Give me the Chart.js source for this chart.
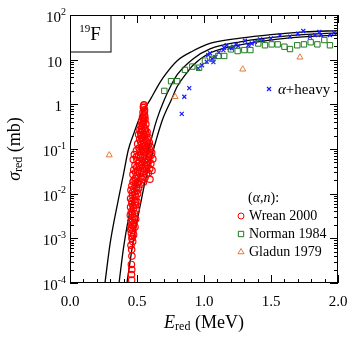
<!DOCTYPE html>
<html>
<head>
<meta charset="utf-8">
<script src="https://cdn.jsdelivr.net/npm/chart.js@4/dist/chart.umd.min.js"></script>
<style>
  html, body { margin: 0; padding: 0; background: #fff; }
  canvas { display: block; }
</style>
</head>
<body>
<canvas id="sigmaChart" width="353" height="338"></canvas>
<script>
// theory curves (E_red, sigma_red)
const curve1 = [[0.261,1e-4],[0.30,7.9e-4],[0.36,7.2e-3],[0.40,0.028],[0.435,0.095],[0.48,0.24],[0.522,0.52],
  [0.572,0.95],[0.602,1.32],[0.65,2.4],[0.696,4.0],[0.80,9.5],[0.92,15.8],[1.05,23.4],[1.27,30.2],[1.5,36.3],[1.75,41.7],[2.0,44.7]];
const curve2 = [[0.366,1e-4],[0.40,6.3e-4],[0.455,5.1e-3],[0.52,0.025],[0.584,0.095],[0.647,0.45],[0.696,1.12],
  [0.75,2.5],[0.80,4.6],[0.92,10.5],[1.045,17.4],[1.27,25.1],[1.64,34.4],[2.0,39.8]];
const curve3 = [[0.425,1e-4],[0.47,7.9e-4],[0.522,5.1e-3],[0.57,0.025],[0.622,0.095],[0.69,0.45],[0.759,1.32],
  [0.80,2.5],[0.87,5.0],[0.92,7.6],[1.045,14.1],[1.27,21.4],[1.64,30.9],[2.0,35.5]];

// (a,n) data
const wrean2000 = [
  [0.552,0.98],[0.548,0.85],[0.556,0.75],[0.545,0.66],[0.553,0.58],[0.541,0.52],[0.560,0.47],[0.537,0.42],
  [0.550,0.40],[0.566,0.36],[0.531,0.33],[0.546,0.31],[0.559,0.29],[0.522,0.27],[0.540,0.25],[0.575,0.24],
  [0.512,0.21],[0.530,0.20],[0.555,0.19],[0.585,0.18],[0.520,0.165],[0.545,0.155],[0.568,0.15],[0.592,0.14],
  [0.505,0.13],[0.535,0.125],[0.560,0.118],[0.600,0.112],[0.515,0.105],[0.548,0.10],[0.580,0.098],
  [0.496,0.092],[0.530,0.088],[0.565,0.085],[0.610,0.082],[0.480,0.075],[0.512,0.072],[0.552,0.07],
  [0.590,0.066],[0.618,0.06],[0.472,0.058],[0.500,0.055],[0.540,0.052],[0.575,0.05],[0.603,0.047],
  [0.485,0.043],[0.520,0.042],[0.560,0.040],[0.595,0.036],[0.612,0.033],[0.476,0.034],[0.505,0.032],
  [0.545,0.031],[0.585,0.029],[0.470,0.027],[0.500,0.025],[0.530,0.024],[0.560,0.023],[0.597,0.021],
  [0.478,0.020],[0.515,0.019],[0.548,0.018],[0.490,0.017],[0.525,0.016],[0.462,0.015],[0.495,0.014],
  [0.512,0.013],[0.455,0.012],[0.480,0.011],[0.505,0.010],[0.468,0.0092],[0.492,0.0085],[0.452,0.0078],
  [0.478,0.0072],[0.500,0.0066],[0.462,0.006],[0.487,0.0055],[0.452,0.005],[0.475,0.0047],[0.495,0.0043],
  [0.458,0.004],[0.482,0.0036],[0.450,0.0033],[0.470,0.003],[0.490,0.0027],[0.455,0.0024],[0.478,0.0022],
  [0.462,0.002],[0.485,0.0018],[0.452,0.0016],[0.470,0.0015],[0.458,0.0013],[0.475,0.0012],[0.462,0.001],
  [0.468,0.00085],[0.455,0.0007],[0.460,0.00056],[0.462,0.0004],[0.458,0.00026],[0.461,0.0002],
  [0.459,0.000155],[0.460,0.000117],
  [0.549,0.92],[0.555,0.68],[0.547,0.48],[0.558,0.55],[0.543,0.37],[0.552,0.44],[0.535,0.29],[0.562,0.26],
  [0.527,0.23],[0.548,0.22],[0.568,0.21],[0.538,0.18],[0.578,0.165],[0.527,0.145],[0.553,0.138],[0.583,0.128],
  [0.540,0.112],[0.568,0.105],[0.592,0.10],[0.522,0.096],[0.548,0.086],[0.582,0.078],[0.605,0.072],
  [0.528,0.064],[0.565,0.061],[0.495,0.066],[0.555,0.056],[0.588,0.054],[0.512,0.048],[0.535,0.045],
  [0.580,0.043],[0.498,0.039],[0.540,0.037],[0.570,0.034],[0.490,0.030],[0.520,0.029],[0.570,0.027],
  [0.488,0.022],[0.540,0.021],[0.505,0.0175],[0.470,0.0185],[0.478,0.013],[0.500,0.0118],[0.465,0.0105],
  [0.485,0.0095],[0.462,0.0068],[0.488,0.0064],[0.470,0.0052],[0.465,0.0035],[0.480,0.0029],[0.468,0.0025],
  [0.472,0.0019],[0.460,0.0017],[0.466,0.0011]
];
const norman1984 = [
  [0.704,2.0],[0.754,3.3],[0.80,3.3],[0.858,5.9],[0.913,7.0],[0.963,6.6],[1.007,9.5],[1.062,10.4],
  [1.107,12.1],[1.151,12.1],[1.201,17],[1.251,15.6],[1.301,16.4],[1.346,16.4],[1.405,23],[1.455,21],
  [1.505,22],[1.55,22],[1.60,19.5],[1.642,17.3],[1.696,21],[1.746,22],[1.796,24.5],[1.846,22],[1.898,27.5],[1.94,21]
];
const gladun1979 = [[0.293,0.073],[0.784,1.48],[1.289,6.1],[1.716,11.3]];
const alphaHeavy = [
  [0.834,0.61],[0.853,1.48],[0.890,2.3],[0.957,6.4],[0.985,7.5],[1.020,9.0],[1.032,12.7],[1.045,13.9],
  [1.060,10.5],[1.070,8.8],[1.085,11.5],[1.110,14.5],[1.144,16.4],[1.150,18.5],[1.169,21],[1.190,18.5],
  [1.207,18],[1.219,19.5],[1.240,22],[1.256,20.2],[1.306,26.5],[1.331,21],[1.356,23],[1.380,25],
  [1.418,28.5],[1.440,27],[1.500,30],[1.567,35.6],[1.642,32.7],[1.70,38],[1.741,43.8],[1.791,32.7],
  [1.828,35.6],[1.861,42],[1.873,35.6],[1.94,35.6],[1.97,40]
];

const xTickLabels = ['0.0', '0.5', '1.0', '1.5', '2.0'];
const yDecades = [-4, -3, -2, -1, 0, 1, 2];

const RED = '#ff0000', GREEN = '#1f7a1f', ORANGE = '#e57a35', BLUE = '#1a1aff';
const SERIF = '"Liberation Serif", "DejaVu Serif", serif';

function pts(arr) { return arr.map(p => ({ x: p[0], y: p[1] })); }
function line(arr) {
  return { data: pts(arr), showLine: true, borderColor: '#000', borderWidth: 1.3, pointRadius: 0,
           cubicInterpolationMode: 'monotone', fill: false };
}

// draws text pieces left to right; each piece {t, size, italic, dy}
function rich(ctx, parts, x, y, align) {
  let w = 0;
  parts.forEach(p => { ctx.font = (p.italic ? 'italic ' : '') + p.size + 'px ' + SERIF; w += ctx.measureText(p.t).width; });
  let cx = align === 'center' ? x - w / 2 : align === 'right' ? x - w : x;
  parts.forEach(p => {
    ctx.font = (p.italic ? 'italic ' : '') + p.size + 'px ' + SERIF;
    ctx.fillText(p.t, cx, y + (p.dy || 0));
    cx += ctx.measureText(p.t).width;
  });
}

const framePlugin = {
  id: 'frame',
  afterDatasetsDraw(chart) {
    const ctx = chart.ctx, a = chart.chartArea;
    const xs = chart.scales.x, ys = chart.scales.y;
    ctx.save();
    ctx.strokeStyle = '#000';
    ctx.fillStyle = '#000';
    ctx.lineWidth = 1;
    ctx.strokeRect(a.left + 0.5, a.top + 0.5, a.right - a.left - 1, a.bottom - a.top - 1);

    // x ticks, inward, bottom and top
    ctx.beginPath();
    for (let i = 0; i <= 20; i++) {
      const px = Math.round(xs.getPixelForValue(i / 10)) + 0.5;
      const len = i % 5 === 0 ? 8 : 4;
      ctx.moveTo(px, a.bottom); ctx.lineTo(px, a.bottom - len);
      ctx.moveTo(px, a.top); ctx.lineTo(px, a.top + len);
    }
    // y ticks, inward, left and right
    yDecades.forEach(e => {
      for (let m = 1; m <= 9; m++) {
        if (e === 2 && m > 1) break;
        const py = Math.round(ys.getPixelForValue(m * Math.pow(10, e))) + 0.5;
        const len = m === 1 ? 8 : 4;
        ctx.moveTo(a.left, py); ctx.lineTo(a.left + len, py);
        ctx.moveTo(a.right, py); ctx.lineTo(a.right - len, py);
      }
    });
    ctx.stroke();

    // tick labels
    ctx.textBaseline = 'middle';
    xTickLabels.forEach(t => {
      ctx.font = '15px ' + SERIF;
      ctx.textAlign = 'center';
      ctx.fillText(t, xs.getPixelForValue(parseFloat(t)), a.bottom + 19);
    });
    ctx.textAlign = 'left';
    yDecades.forEach(e => {
      const py = ys.getPixelForValue(Math.pow(10, e)) + 3;
      if (e === 0) rich(ctx, [{ t: '1', size: 15 }], 62, py, 'right');
      else if (e === 1) rich(ctx, [{ t: '10', size: 15 }], 62, py, 'right');
      else rich(ctx, [{ t: '10', size: 15 }, { t: String(e), size: 10, dy: -6 }], 66, py, 'right');
    });

    // axis titles
    rich(ctx, [{ t: 'E', size: 18, italic: true }, { t: 'red', size: 12, dy: 4 }, { t: ' (MeV)', size: 18 }],
      (a.left + a.right) / 2, 323, 'center');
    ctx.save();
    ctx.translate(15, (a.top + a.bottom) / 2);
    ctx.rotate(-Math.PI / 2);
    rich(ctx, [{ t: 'σ', size: 18, italic: true }, { t: 'red', size: 12, dy: 4 }, { t: ' (mb)', size: 18 }], 0, 0, 'center');
    ctx.restore();

    // nucleus box
    ctx.fillStyle = '#fff';
    ctx.fillRect(a.left + 1, a.top + 1, 40, 36);
    ctx.strokeRect(a.left + 0.5, a.top + 0.5, 40.5, 36.5);
    ctx.fillStyle = '#000';
    rich(ctx, [{ t: '19', size: 11, dy: -6 }, { t: 'F', size: 19 }], a.left + 20, a.top + 20, 'center');

    // legend
    const H = Chart.helpers;
    rich(ctx, [{ t: '(', size: 14 }, { t: 'α', size: 14, italic: true }, { t: ',', size: 14 },
      { t: 'n', size: 14, italic: true }, { t: '):', size: 14 }], 248, 198, 'left');
    const leg = [['Wrean 2000', 'circle', RED, 3, 216], ['Norman 1984', 'rect', GREEN, 3.8, 234], ['Gladun 1979', 'triangle', ORANGE, 3.5, 252]];
    leg.forEach(l => {
      ctx.strokeStyle = l[2]; ctx.fillStyle = 'rgba(0,0,0,0)'; ctx.lineWidth = 1;
      H.drawPoint(ctx, { pointStyle: l[1], radius: l[3], borderWidth: 1 }, 241, l[4]);
      ctx.fillStyle = '#000';
      rich(ctx, [{ t: l[0], size: 14 }], 249, l[4], 'left');
    });
    ctx.strokeStyle = BLUE; ctx.lineWidth = 1.2;
    H.drawPoint(ctx, { pointStyle: 'crossRot', radius: 2.8, borderWidth: 1.2 }, 269, 89);
    ctx.fillStyle = '#000';
    rich(ctx, [{ t: 'α', size: 15, italic: true }, { t: '+heavy', size: 15 }], 278, 90, 'left');
    ctx.restore();
  }
};

new Chart(document.getElementById('sigmaChart').getContext('2d'), {
  type: 'scatter',
  data: {
    datasets: [
      { data: pts(wrean2000), pointStyle: 'circle', pointRadius: 3.2, borderColor: RED, backgroundColor: 'rgba(0,0,0,0)', borderWidth: 1.2 },
      { data: pts(norman1984), pointStyle: 'rect', pointRadius: 3.8, borderColor: GREEN, backgroundColor: 'rgba(0,0,0,0)', borderWidth: 1 },
      { data: pts(gladun1979), pointStyle: 'triangle', pointRadius: 3.5, borderColor: ORANGE, backgroundColor: 'rgba(0,0,0,0)', borderWidth: 1 },
      { data: pts(alphaHeavy), pointStyle: 'crossRot', pointRadius: 2.8, borderColor: BLUE, borderWidth: 1.2 },
      line(curve1), line(curve2), line(curve3)
    ]
  },
  options: {
    responsive: false,
    animation: false,
    devicePixelRatio: 1,
    layout: { padding: { top: 15, right: 15, left: 0, bottom: 0 } },
    plugins: { legend: { display: false }, tooltip: { enabled: false } },
    scales: {
      x: {
        type: 'linear', min: 0, max: 2,
        ticks: { display: false }, grid: { display: false }, border: { display: false },
        afterFit: s => { s.height = 55; }
      },
      y: {
        type: 'logarithmic', min: 1e-4, max: 100,
        ticks: { display: false }, grid: { display: false }, border: { display: false },
        afterFit: s => { s.width = 70; }
      }
    }
  },
  plugins: [framePlugin]
});
</script>
</body>
</html>
